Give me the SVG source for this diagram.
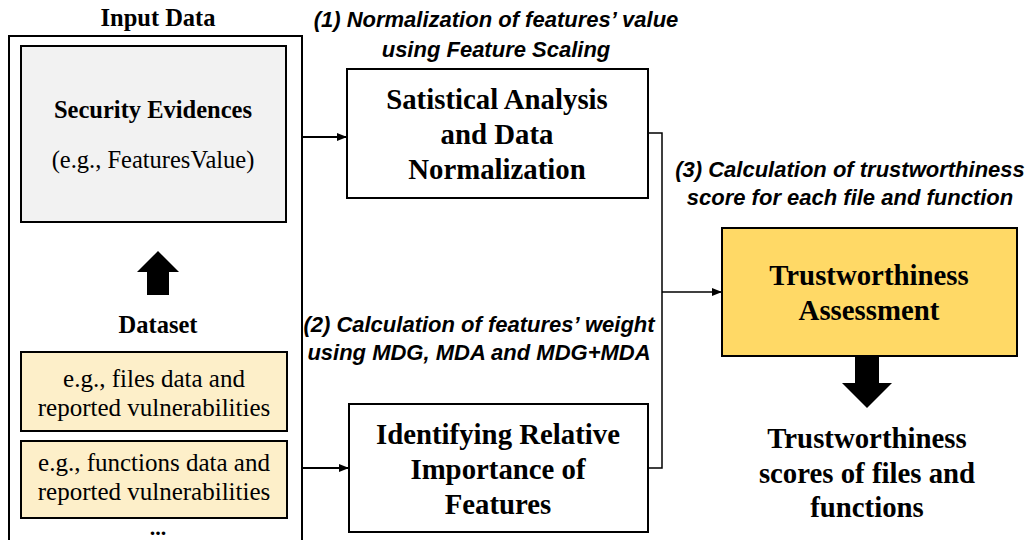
<svg xmlns="http://www.w3.org/2000/svg" width="1026" height="540" viewBox="0 0 1026 540">
<style>
.box{stroke:#000;stroke-width:2;}
.ser{font-family:"Liberation Serif","Times New Roman",serif;fill:#000;text-anchor:middle;}
.b{font-weight:bold;}
.lbl{font-family:"Liberation Sans",Arial,sans-serif;font-weight:bold;font-style:italic;font-size:22px;fill:#000;text-anchor:middle;}
.con{stroke:#000;stroke-width:1.5;fill:none;}
.con2{stroke:#000;stroke-width:2;fill:none;}
.blk{fill:#000;}
</style>
<defs>
<marker id="ah" markerWidth="10" markerHeight="10" refX="9" refY="5" orient="auto" markerUnits="userSpaceOnUse">
<path d="M0,1 L10,5 L0,9 Z" fill="#000"/>
</marker>
</defs>
<rect width="1026" height="540" fill="#fff"/>

<g id="input-data">
<text class="ser b" x="158" y="26" font-size="24.5">Input Data</text>
<rect x="9" y="36" width="293" height="520" fill="#fff" class="box"/>
</g>

<g id="security-evidences">
<rect x="21" y="46" width="265" height="176" fill="#f2f2f2" class="box"/>
<text class="ser b" x="153" y="118" font-size="24.5">Security Evidences</text>
<text class="ser" x="153" y="168" font-size="24.5">(e.g., FeaturesValue)</text>
</g>

<g id="up-arrow">
<path class="blk" d="M158,251 L179,272 L169,272 L169,295 L147,295 L147,272 L137,272 Z"/>
</g>

<g id="dataset">
<text class="ser b" x="158" y="333" font-size="24.5">Dataset</text>
</g>

<g id="files-data">
<rect x="21" y="352" width="266" height="79" fill="#fdefc9" class="box"/>
<text class="ser" x="154" y="387" font-size="25">e.g., files data and</text>
<text class="ser" x="154" y="416" font-size="25">reported vulnerabilities</text>
</g>

<g id="functions-data">
<rect x="21" y="441" width="266" height="77" fill="#fdefc9" class="box"/>
<text class="ser" x="154" y="471" font-size="25">e.g., functions data and</text>
<text class="ser" x="154" y="500" font-size="25">reported vulnerabilities</text>
<text class="ser b" x="158" y="535" font-size="22">...</text>
</g>

<g id="statistical-analysis">
<rect x="347" y="69" width="301" height="129" fill="#fff" class="box"/>
<text class="ser b" x="497" y="109" font-size="28.8">Satistical Analysis</text>
<text class="ser b" x="497" y="144" font-size="28.8">and Data</text>
<text class="ser b" x="497" y="179" font-size="28.8">Normalization</text>
</g>

<g id="identifying-importance">
<rect x="349" y="404" width="299" height="128" fill="#fff" class="box"/>
<text class="ser b" x="498" y="444" font-size="28.8">Identifying Relative</text>
<text class="ser b" x="498" y="479" font-size="28.8">Importance of</text>
<text class="ser b" x="498" y="514" font-size="28.8">Features</text>
</g>

<g id="trust-assessment">
<rect x="722" y="228" width="295" height="128" fill="#ffd966" class="box"/>
<text class="ser b" x="869" y="285" font-size="28.8">Trustworthiness</text>
<text class="ser b" x="869" y="320" font-size="28.8">Assessment</text>
</g>

<g id="down-arrow">
<path class="blk" d="M855,356 L879,356 L879,383 L892,383 L867,408 L842,383 L855,383 Z"/>
</g>

<g id="trust-scores">
<text class="ser b" x="867" y="448" font-size="28.8">Trustworthiness</text>
<text class="ser b" x="867" y="483" font-size="28.8">scores of files and</text>
<text class="ser b" x="867" y="517" font-size="28.8">functions</text>
</g>

<g id="labels">
<text class="lbl" x="496" y="27">(1) Normalization of features’ value</text>
<text class="lbl" x="496" y="57">using Feature Scaling</text>
<text class="lbl" x="479" y="332">(2) Calculation of features’ weight</text>
<text class="lbl" x="479" y="360">using MDG, MDA and MDG+MDA</text>
<text class="lbl" x="850" y="177">(3) Calculation of trustworthiness</text>
<text class="lbl" x="850" y="205">score for each file and function</text>
</g>

<g id="connectors">
<line class="con2" x1="303" y1="137" x2="346" y2="137" marker-end="url(#ah)"/>
<line class="con2" x1="303" y1="468" x2="348" y2="468" marker-end="url(#ah)"/>
<polyline class="con" points="649,133 662,133 662,468 649,468"/>
<line class="con" x1="662" y1="292" x2="721" y2="292" marker-end="url(#ah)"/>
</g>
</svg>
